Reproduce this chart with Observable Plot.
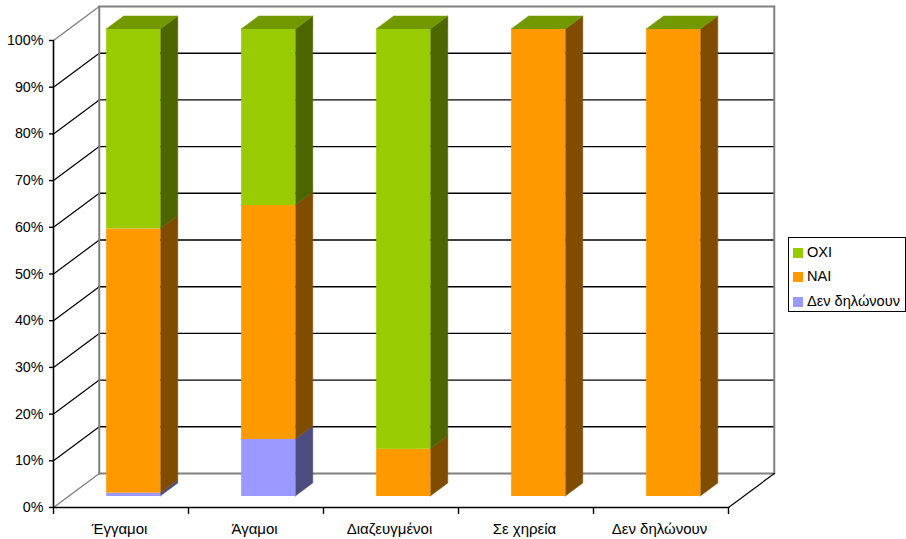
<!DOCTYPE html>
<html>
<head>
<meta charset="utf-8">
<script src="https://cdn.jsdelivr.net/npm/d3@7"></script>
<script src="https://cdn.jsdelivr.net/npm/@observablehq/plot@0.6"></script>
<style>
  html, body { margin: 0; padding: 0; background: #fff; }
  #chart { position: relative; width: 906px; height: 539px; overflow: hidden; font-family: "Liberation Sans", Arial, sans-serif; color: #000; }
  #chart svg { display: block; font-family: "Liberation Sans", Arial, sans-serif; }
  #legend { position: absolute; left: 788px; top: 237px; width: 116px; height: 73px; border: 1px solid #000; background: #fff; font-size: 14.6px; box-sizing: content-box; }
  #legend div { position: absolute; left: 4px; height: 14px; line-height: 14px; white-space: nowrap; }
  #legend i { display: inline-block; width: 10px; height: 10px; margin-right: 4px; vertical-align: -1px; }
</style>
</head>
<body>
<div id="chart"></div>
<script>
const categories = ["Έγγαμοι", "Άγαμοι", "Διαζευγμένοι", "Σε χηρεία", "Δεν δηλώνουν"];
const seriesNames = ["Δεν δηλώνουν", "ΝΑΙ", "ΟΧΙ"];
const denDilonoun = [0.7, 12.2, 0, 0, 0];
const nai = [56.6, 50.1, 10.1, 100, 100];
const oxi = [42.7, 37.7, 89.9, 0, 0];
const frontColors = ["#9999FF", "#FF9900", "#99CC00"];
const sideColors = ["#4D4D80", "#804D00", "#4D6600"];
const topColor = "#739900";
const yTicks = [0, 10, 20, 30, 40, 50, 60, 70, 80, 90, 100];

// Oblique projection: depth 0 is the front plane, depth 1 the back wall.
const DEPTH_X = 0.339, DEPTH_Y = 7.28;
const BAR_START = 0.284, BAR_WIDTH = 0.401, BAR_FRONT = 0.324, BAR_BACK = 0.706;
const px = (x, d) => x + d * DEPTH_X;
const py = (v, d) => v + d * DEPTH_Y;

const series = [denDilonoun, nai, oxi];
const sides = [], fronts = [], tops = [];
categories.forEach((c, i) => {
  let base = 0;
  const left = i + BAR_START, right = left + BAR_WIDTH;
  series.forEach((vals, s) => {
    const v = vals[i];
    if (v > 0) {
      fronts.push({id: `${i}-${s}`, fill: frontColors[s], x1: px(left, BAR_FRONT), x2: px(right, BAR_FRONT), y1: py(base, BAR_FRONT), y2: py(base + v, BAR_FRONT)});
      [BAR_FRONT, BAR_BACK].forEach(d => sides.push({id: `${i}-${s}`, fill: sideColors[s], x: px(right, d), y1: py(base, d), y2: py(base + v, d)}));
    }
    base += v;
  });
  [BAR_FRONT, BAR_BACK].forEach(d => tops.push({id: `${i}`, y: py(base, d), x1: px(left, d), x2: px(right, d)}));
});

const seg = (x1, v1, d1, x2, v2, d2) => [{x: px(x1, d1), y: py(v1, d1)}, {x: px(x2, d2), y: py(v2, d2)}];
const line = (pts, stroke, strokeWidth) => Plot.line(pts, {x: "x", y: "y", stroke, strokeWidth});
const n = categories.length;
const innerTicks = yTicks.filter(v => v > 0 && v < 100);

const chart = Plot.plot({
  width: 906, height: 539,
  marginLeft: 53, marginRight: 178, marginTop: 40, marginBottom: 32,
  style: {fontSize: "14.3px", background: "#fff"},
  x: {domain: [0, n]},
  y: {domain: [0, 100]},
  color: {type: "identity"},
  marks: [
    // grid on back wall and left wall
    ...innerTicks.flatMap(v => [
      line(seg(0, v, 1, n, v, 1), "#000", 1.4),
      line(seg(0, v, 0, 0, v, 1), "#000", 1.2)
    ]),
    // wall outlines
    line(seg(0, 100, 1, n, 100, 1), "#808080", 2),
    line(seg(0, 0, 1, n, 0, 1), "#808080", 2),
    line(seg(0, 0, 1, 0, 100, 1), "#808080", 2),
    line(seg(n, 0, 1, n, 100, 1), "#808080", 2),
    line(seg(0, 100, 0, 0, 100, 1), "#808080", 1.4),
    line(seg(0, 0, 0, 0, 0, 1), "#808080", 1.4),
    line(seg(n, 0, 0, n, 0, 1), "#000", 1.2),
    // bars
    Plot.areaY(sides, {x: "x", y1: "y1", y2: "y2", z: "id", fill: "fill", stroke: "fill", strokeWidth: 0.5}),
    Plot.areaX(tops, {y: "y", x1: "x1", x2: "x2", z: "id", fill: topColor, stroke: topColor, strokeWidth: 0.5}),
    Plot.rect(fronts, {x1: "x1", x2: "x2", y1: "y1", y2: "y2", fill: "fill", inset: 0}),
    // front axes
    Plot.axisY({ticks: yTicks, tickFormat: d => d + "%", tickSize: 4, tickPadding: 6, stroke: "#000", fill: "#000", strokeWidth: 1.4, label: null}),
    Plot.axisX({ticks: d3.range(n + 1), tickFormat: () => "", tickSize: 7, stroke: "#000", strokeWidth: 1.4, label: null}),
    Plot.axisX({ticks: categories.map((c, i) => i + 0.5), tickFormat: d => categories[d - 0.5], tickSize: 0, tickPadding: 16, fontSize: 15, dx: -1.5, fill: "#000", label: null}),
    line(seg(0, 0, 0, 0, 100, 0), "#000", 1.6),
    line(seg(0, 0, 0, n, 0, 0), "#000", 1.6)
  ]
});

const root = document.getElementById("chart");
root.appendChild(chart);
const legend = document.createElement("div");
legend.id = "legend";
[2, 1, 0].forEach((s, row) => {
  const item = document.createElement("div");
  item.style.top = (6.5 + row * 24.5) + "px";
  const sw = document.createElement("i");
  sw.style.background = frontColors[s];
  item.appendChild(sw);
  item.appendChild(document.createTextNode(seriesNames[s]));
  legend.appendChild(item);
});
root.appendChild(legend);
</script>
</body>
</html>
